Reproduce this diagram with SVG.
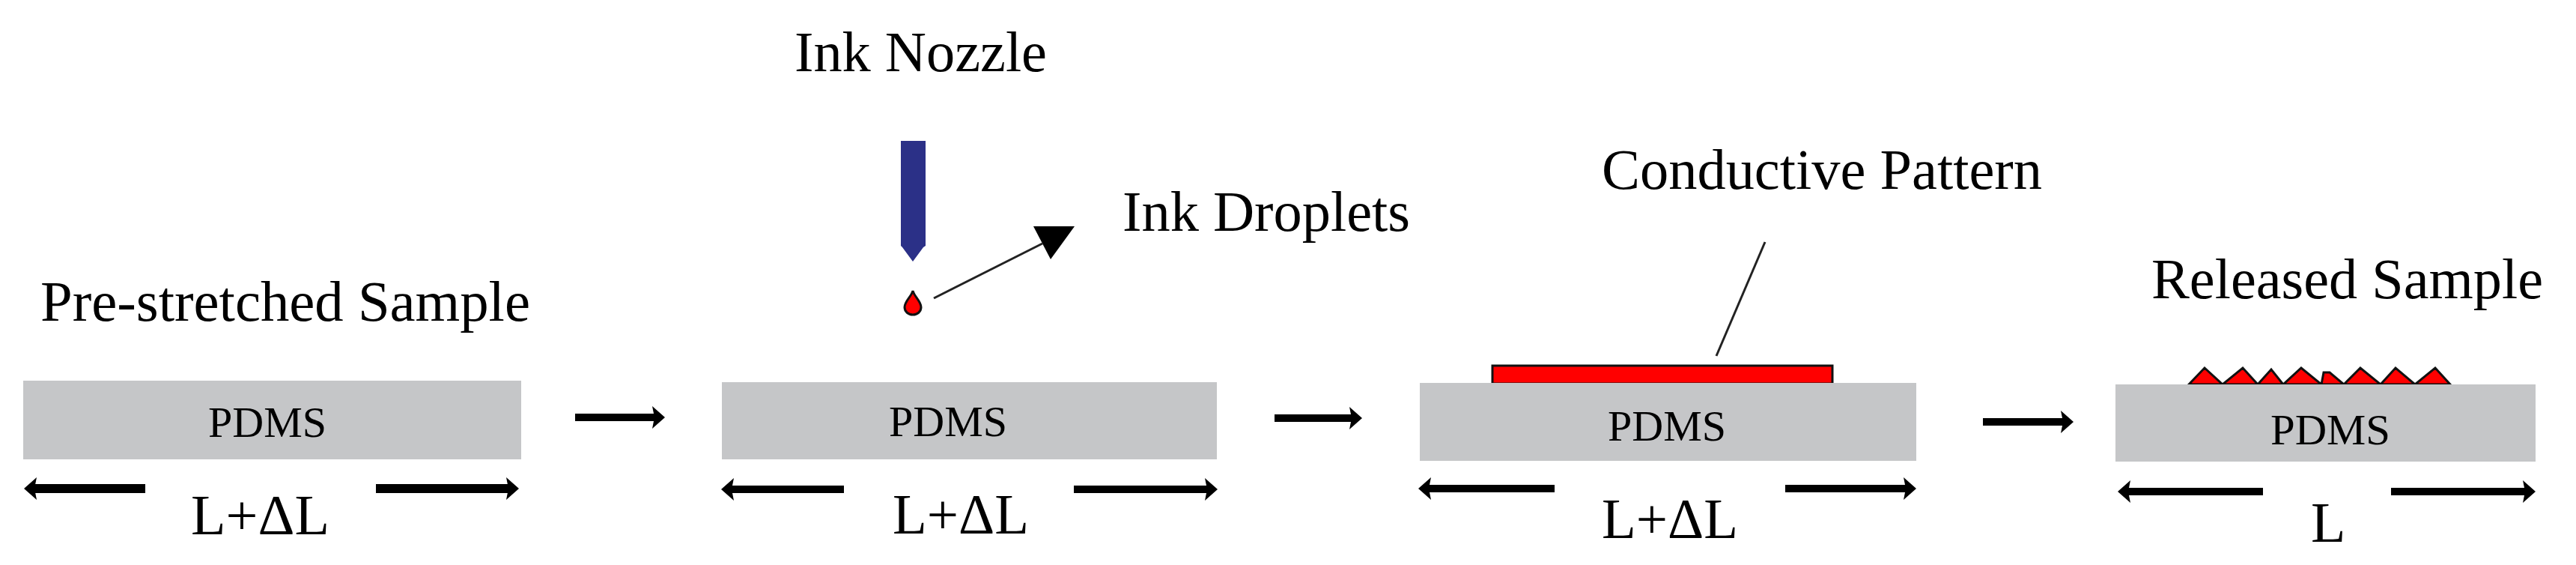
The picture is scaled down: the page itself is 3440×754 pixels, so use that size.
<svg xmlns="http://www.w3.org/2000/svg" width="3440" height="754" viewBox="0 0 3440 754">
<style>
text{font-family:"Liberation Serif","Times New Roman",serif;fill:#000}
.lbl{font-size:76px}
.pdms{font-size:58px;text-anchor:start}
.sub{fill:#c5c6c8}
.arr{stroke:#000;stroke-width:10;fill:none;marker-end:url(#head)}
.thick{stroke-width:12}
.thin{stroke:#222;stroke-width:3;fill:none}
.red{fill:#f00;stroke:#111;stroke-width:3;stroke-linejoin:miter}
</style>
<defs>
<marker id="head" markerUnits="userSpaceOnUse" markerWidth="18" markerHeight="32" refX="7" refY="15" orient="auto" viewBox="0 0 18 30">
<path d="M0,0 L17,15 L0,30 L3,15 z" fill="#000"/>
</marker>
</defs>
<rect width="3440" height="754" fill="#fff"/>
<g id="stage1">
<rect class="sub" x="31" y="508" width="665" height="105"/>
<text class="pdms" x="278" y="583" textLength="158" lengthAdjust="spacingAndGlyphs">PDMS</text>
<text class="lbl" x="54" y="428" textLength="654" lengthAdjust="spacingAndGlyphs">Pre-stretched Sample</text>
<text class="lbl" x="255" y="713" textLength="185" lengthAdjust="spacingAndGlyphs">L+ΔL</text>
</g>
<g id="stage2">
<rect class="sub" x="964" y="510" width="661" height="103"/>
<text class="pdms" x="1187" y="582" textLength="158" lengthAdjust="spacingAndGlyphs">PDMS</text>
<text class="lbl" x="1061" y="95" textLength="337" lengthAdjust="spacingAndGlyphs">Ink Nozzle</text>
<text class="lbl" x="1499" y="308" textLength="384" lengthAdjust="spacingAndGlyphs">Ink Droplets</text>
<text class="lbl" x="1192" y="712" textLength="182" lengthAdjust="spacingAndGlyphs">L+ΔL</text>
</g>
<g id="nozzle"><path d="M1203,188 H1236 V328 L1233,330 L1219,349 L1205,330 L1203,328 z" fill="#2b3087"/></g>
<g id="droplet"><path d="M1219,388 C1221,396 1230,402 1230,410 C1230,416 1225,420 1219,420 C1213,420 1208,416 1208,410 C1208,402 1217,396 1219,388 z" class="red"/></g>
<g id="stage3">
<rect class="red" x="1993" y="488" width="454" height="24"/>
<rect class="sub" x="1896" y="511" width="663" height="104"/>
<text class="pdms" x="2147" y="588" textLength="158" lengthAdjust="spacingAndGlyphs">PDMS</text>
<text class="lbl" x="2139" y="252" textLength="588" lengthAdjust="spacingAndGlyphs">Conductive Pattern</text>
<text class="lbl" x="2139" y="718" textLength="182" lengthAdjust="spacingAndGlyphs">L+ΔL</text>
</g>
<g id="stage4">
<path class="red" stroke-width="2" d="M2923,513 L2944,491 L2968,513 L2995,491 L3015,513 L3033,493 L3049,513 L3073,491 L3100,513 L3103,497 L3111,497 L3130,513 L3152,491 L3179,513 L3199,491 L3225,513 L3252,491 L3272,513 z"/>
<rect class="sub" x="2825" y="513" width="561" height="103"/>
<text class="pdms" x="3032" y="593" textLength="160" lengthAdjust="spacingAndGlyphs">PDMS</text>
<text class="lbl" x="2873" y="398" textLength="523" lengthAdjust="spacingAndGlyphs">Released Sample</text>
<text class="lbl" x="3086" y="723">L</text>
</g>
<g id="connectors">
<line class="arr" x1="768" y1="557" x2="878" y2="557"/>
<line class="arr" x1="1702" y1="558" x2="1809" y2="558"/>
<line class="arr" x1="2648" y1="563" x2="2759" y2="563"/>
<line class="arr thick" x1="194" y1="652" x2="42" y2="652"/>
<line class="arr thick" x1="502" y1="652" x2="683" y2="652"/>
<line class="arr" x1="1127" y1="653" x2="973" y2="653"/>
<line class="arr" x1="1434" y1="653" x2="1616" y2="653"/>
<line class="arr" x1="2076" y1="652" x2="1904" y2="652"/>
<line class="arr" x1="2384" y1="652" x2="2549" y2="652"/>
<line class="arr" x1="3022" y1="656" x2="2838" y2="656"/>
<line class="arr" x1="3193" y1="656" x2="3376" y2="656"/>
<line class="thin" x1="1247" y1="398" x2="1392" y2="325"/>
<path d="M1380,302 H1435 L1403,346 z" fill="#000"/>
<line class="thin" x1="2357" y1="323" x2="2292" y2="475"/>
</g>
</svg>
